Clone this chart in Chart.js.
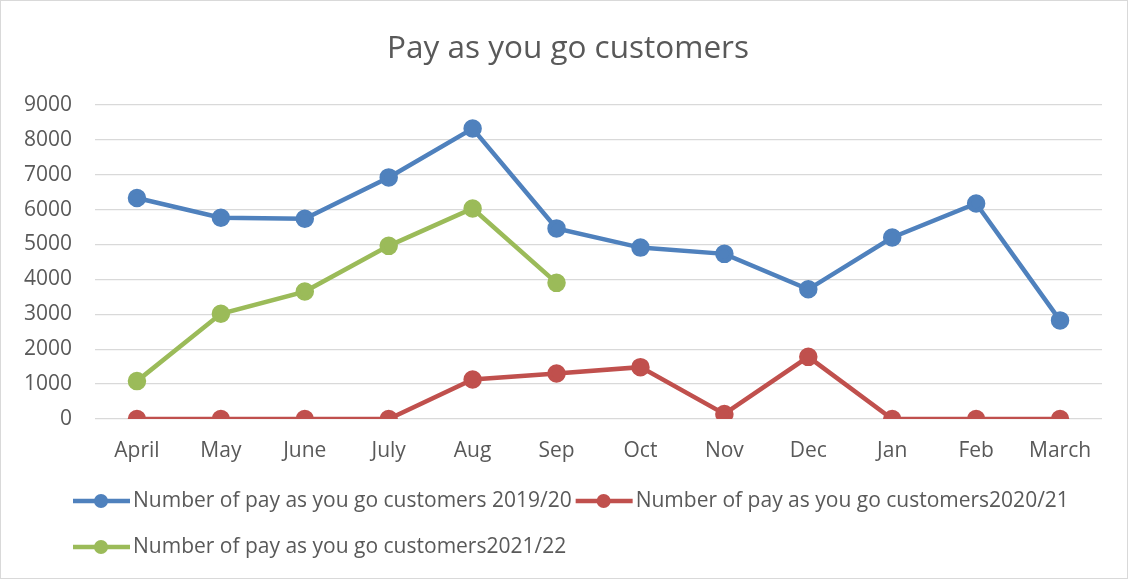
<!DOCTYPE html>
<html>
<head>
<meta charset="utf-8">
<script src="https://cdn.jsdelivr.net/npm/chart.js@4"></script>
<style>
  html, body { margin: 0; padding: 0; background: #fff; }
  #box { width: 1128px; height: 579px; }
</style>
</head>
<body>
<div id="box"><canvas id="payg"></canvas></div>
<script>
// Chart data
const months = ['April', 'May', 'June', 'July', 'Aug', 'Sep', 'Oct', 'Nov', 'Dec', 'Jan', 'Feb', 'March'];
const seriesNames = [
  'Number of pay as you go customers 2019/20',
  'Number of pay as you go customers2020/21',
  'Number of pay as you go customers2021/22'
];
const customers1920 = [6330, 5765, 5735, 6920, 8320, 5460, 4910, 4730, 3715, 5200, 6175, 2825];
const customers2021 = [0, 0, 0, 0, 1130, 1305, 1485, 145, 1780, 0, 0, 0];
const customers2122 = [1085, 3015, 3650, 4960, 6030, 3900, null, null, null, null, null, null];
const yMin = 0, yMax = 9000, yStep = 1000;

const FONT = '"Open Sans", Lato, sans-serif';
const TEXT_COLOR = '#595959';
const colors = ['#4f81bd', '#c0504d', '#9bbb59'];

// draws the legend the way the office chart lays it out (line + dot, rows far apart)
const officeLegend = {
  id: 'officeLegend',
  afterDraw(chart) {
    const ctx = chart.ctx;
    ctx.save();
    ctx.font = '21px ' + FONT;
    ctx.textBaseline = 'middle';
    let x = 73, y = 501;
    chart.data.datasets.forEach(ds => {
      const w = 60 + ctx.measureText(ds.label).width;
      if (x + w > 1105) { x = 73; y += 46; }
      ctx.strokeStyle = ds.borderColor;
      ctx.lineWidth = 4.5;
      ctx.beginPath();
      ctx.moveTo(x, y);
      ctx.lineTo(x + 57, y);
      ctx.stroke();
      ctx.fillStyle = ds.borderColor;
      ctx.beginPath();
      ctx.arc(x + 28, y, 7, 0, Math.PI * 2);
      ctx.fill();
      ctx.fillStyle = TEXT_COLOR;
      ctx.fillText(ds.label, x + 60, y);
      x += w + 4;
    });
    // outer frame
    ctx.strokeStyle = '#d9d9d9';
    ctx.lineWidth = 1;
    ctx.strokeRect(0.5, 0.5, chart.width - 1, chart.height - 1);
    ctx.restore();
  }
};

function lineSet(label, data, color) {
  return {
    label: label,
    data: data,
    borderColor: color,
    backgroundColor: color,
    pointBackgroundColor: color,
    pointBorderColor: color,
    borderWidth: 4.5,
    pointRadius: 7,
    pointHoverRadius: 7,
    tension: 0,
    spanGaps: false
  };
}

new Chart(document.getElementById('payg'), {
  type: 'line',
  data: {
    labels: months,
    datasets: [
      lineSet(seriesNames[0], customers1920, colors[0]),
      lineSet(seriesNames[1], customers2021, colors[1]),
      lineSet(seriesNames[2], customers2122, colors[2])
    ]
  },
  options: {
    responsive: true,
    maintainAspectRatio: false,
    animation: false,
    layout: { padding: { left: 8, right: 0, top: 0, bottom: 110 } },
    plugins: {
      legend: { display: false },
      tooltip: { enabled: false },
      title: {
        display: true,
        text: 'Pay as you go customers',
        color: TEXT_COLOR,
        font: { family: FONT, size: 31.5, weight: 'normal' },
        padding: { top: 30, bottom: 37 }
      }
    },
    scales: {
      x: {
        offset: true,
        grid: { display: false, drawTicks: false },
        border: { display: false },
        ticks: { color: TEXT_COLOR, font: { family: FONT, size: 21 }, padding: 19, maxRotation: 0 },
        afterFit(scale) { scale.height = 50; }
      },
      y: {
        min: yMin,
        max: yMax,
        grid: { color: '#d9d9d9', lineWidth: 1.3, drawTicks: false },
        border: { display: false },
        ticks: {
          stepSize: yStep,
          color: TEXT_COLOR,
          font: { family: FONT, size: 21 },
          padding: 23,
          callback: v => String(v)
        },
        afterFit(scale) { scale.width = 87; }
      },
      // empty right-hand margin so the title centres on the whole frame
      side: {
        type: 'linear',
        position: 'right',
        grid: { display: false, drawTicks: false },
        border: { display: false },
        ticks: { display: false },
        afterFit(scale) { scale.width = 26; }
      }
    }
  },
  plugins: [officeLegend]
});
</script>
</body>
</html>
